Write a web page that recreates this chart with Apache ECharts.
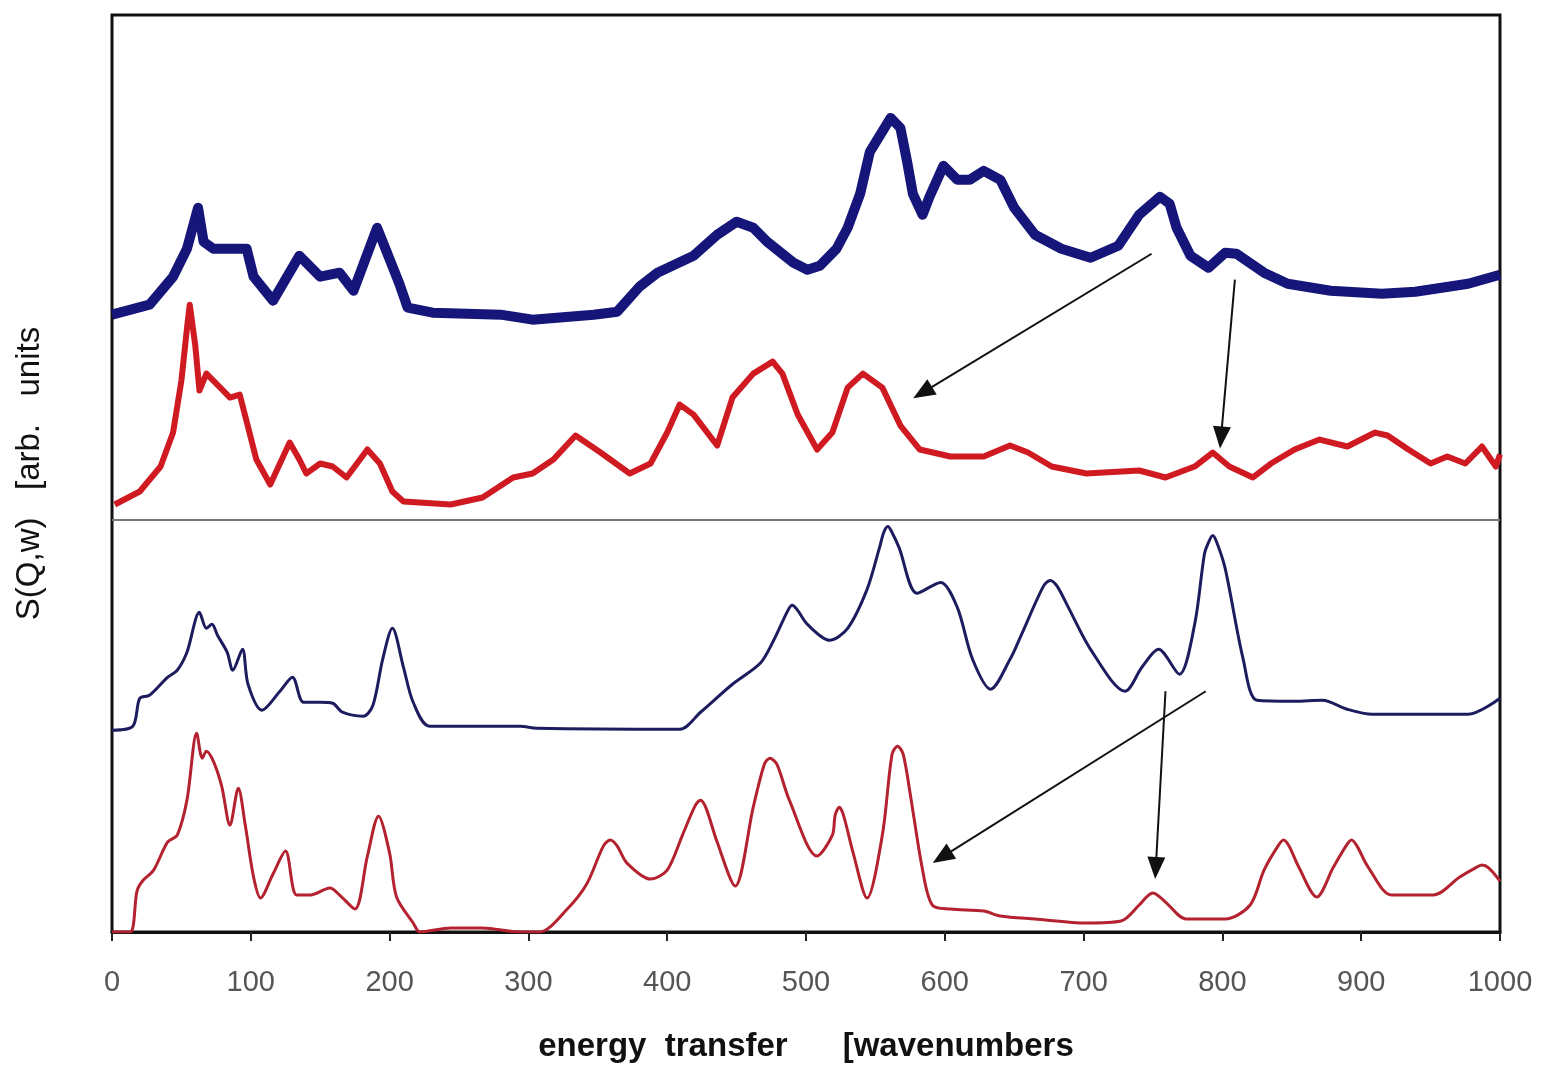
<!DOCTYPE html>
<html>
<head>
<meta charset="utf-8">
<script src="https://cdn.jsdelivr.net/npm/echarts@6/dist/echarts.min.js"></script>
<style>
html,body{margin:0;padding:0;background:#fff;}
#chart{width:1541px;height:1068px;}
</style>
</head>
<body>
<div id="chart"></div>
<script>
// x ticks (wavenumbers)
const xTicks = [0,100,200,300,400,500,600,700,800,900,1000];

// Experimental (top panel), offset curves, arbitrary units
const expBlue = [[0,618],[27,628],[44,656],[54,684],[62,725],[66,691],[73,684],[97,684],[102,656],[116,632],[135,677],[150,656],[164,660],[174,642],[191,705],[207,649],[213,625],[231,620],[280,618],[303,613],[347,618],[364,621],[380,646],[393,660],[419,677],[436,698],[450,711],[462,705],[472,691],[491,670],[501,663],[510,667],[522,684],[530,705],[539,739],[546,781],[561,815],[568,805],[573,770],[577,739],[584,718],[589,736],[599,767],[609,753],[618,753],[628,762],[640,753],[650,725],[665,698],[684,684],[705,675],[725,687],[740,718],[755,736],[762,729],[767,705],[777,677],[790,665],[802,680],[810,679],[830,660],[847,649],[878,642],[915,639],[939,641],[977,649],[1000,658]];

const expRed = [[2,428],[20,441],[35,466],[44,500],[50,552],[54,604],[56,628],[60,587],[63,542],[68,559],[78,545],[85,535],[92,538],[97,511],[104,473],[114,448],[128,490],[135,473],[140,459],[150,469],[159,466],[169,455],[184,483],[193,469],[202,441],[210,431],[244,428],[267,435],[289,455],[303,459],[318,473],[334,497],[352,480],[373,459],[388,469],[400,500],[409,528],[419,518],[436,487],[447,535],[462,559],[476,571],[483,559],[494,518],[508,483],[519,500],[530,545],[541,559],[555,545],[568,507],[582,483],[604,476],[628,476],[647,487],[660,480],[677,466],[702,459],[740,462],[759,455],[780,466],[793,480],[805,466],[822,455],[835,469],[852,483],[870,493],[890,486],[910,500],[919,497],[934,483],[950,469],[962,476],[975,469],[987,486],[997,466],[1000,478]];

// Calculated (bottom panel)
const calcBlue = [[0,202],[15,206],[20,234],[27,237],[40,255],[47,262],[54,280],[63,320],[68,304],[72,308],[76,297],[83,280],[87,262],[94,283],[98,248],[108,222],[121,241],[130,255],[138,230],[150,230],[159,229],[166,220],[181,216],[188,227],[195,273],[202,304],[210,265],[217,230],[229,206],[294,206],[306,204],[409,203],[424,220],[447,248],[467,269],[476,290],[487,322],[490,327],[494,322],[501,308],[517,292],[530,304],[544,343],[553,385],[556,400],[559,406],[562,400],[567,385],[580,339],[597,350],[609,325],[620,273],[633,243],[647,273],[655,297],[671,346],[676,352],[681,346],[689,325],[705,283],[730,241],[742,265],[754,283],[769,258],[780,308],[787,378],[790,390],[793,397],[796,390],[802,364],[815,273],[825,232],[852,231],[872,232],[890,223],[908,218],[977,218],[1000,234]];

const calcRed = [[0,0],[13,0],[18,41],[22,51],[30,62],[40,90],[47,97],[54,132],[61,199],[65,174],[68,181],[73,171],[79,146],[85,107],[91,144],[96,107],[102,55],[107,34],[116,58],[125,81],[133,37],[143,37],[157,44],[164,37],[175,23],[184,76],[192,116],[200,79],[205,35],[217,9],[222,0],[244,4],[267,4],[294,0],[308,0],[328,23],[342,48],[354,86],[359,92],[364,86],[371,69],[388,53],[400,62],[411,97],[420,126],[424,132],[428,124],[436,90],[449,46],[462,125],[470,168],[474,174],[479,168],[488,132],[508,76],[519,97],[521,117],[524,125],[527,117],[534,79],[544,34],[555,97],[562,178],[566,186],[570,178],[575,139],[584,62],[591,27],[604,23],[628,21],[640,16],[665,13],[702,9],[727,11],[740,27],[746,36],[750,39],[754,36],[759,30],[774,13],[802,13],[820,27],[830,62],[840,86],[844,92],[848,86],[855,65],[868,35],[880,65],[889,86],[893,92],[897,86],[905,65],[922,37],[952,37],[971,55],[982,64],[987,67],[992,64],[1000,51]];

// Panel divider level and annotation arrows ([from],[to]) in data units
const dividerLevel = 413;
const arrowsTop = [[[749,679],[584,540]],[[809,653],[799,495]]];
const arrowsBottom = [[[788,241],[598,75]],[[759,241],[752,64]]];

const chart = echarts.init(document.getElementById('chart'));
const arrowData = arr => arr.map(a => [{coord:a[0]},{coord:a[1]}]);

chart.setOption({
  animation:false,
  backgroundColor:'#fff',
  grid:{left:112,right:41,top:15,bottom:135,show:true,borderColor:'#111',borderWidth:3,backgroundColor:'transparent'},
  xAxis:{
    type:'value',min:xTicks[0],max:xTicks[xTicks.length-1],interval:100,
    axisLine:{show:true,lineStyle:{color:'#111',width:3}},
    axisTick:{show:true,inside:false,length:9,lineStyle:{color:'#222',width:2}},
    axisLabel:{color:'#555',fontSize:29,fontFamily:'Liberation Sans, Arial, sans-serif',margin:36,formatter:v=>String(v)},
    splitLine:{show:false},
    name:'energy  transfer      [wavenumbers',
    nameLocation:'middle',nameGap:98,
    nameTextStyle:{color:'#111',fontSize:33,fontWeight:'bold',fontFamily:'Liberation Sans, Arial, sans-serif'}
  },
  yAxis:{
    type:'value',min:0,max:918,
    axisLine:{show:false},axisTick:{show:false},axisLabel:{show:false},splitLine:{show:false},
    name:'S(Q,w)   [arb.   units',
    nameLocation:'middle',nameGap:66,
    nameTextStyle:{color:'#111',fontSize:33,fontFamily:'Liberation Sans, Arial, sans-serif'}
  },
  series:[
    {type:'line',name:'exp blue',data:expBlue,showSymbol:false,lineStyle:{color:'#15157a',width:10,join:'round'},
     markLine:{silent:true,symbol:['none','none'],label:{show:false},lineStyle:{color:'#777',width:2,type:'solid'},
       data:[{yAxis:dividerLevel}]}},
    {type:'line',name:'exp red',data:expRed,showSymbol:false,lineStyle:{color:'#d01a22',width:6,join:'round'},
     markLine:{silent:true,symbol:['none','triangle'],symbolSize:[18,22],label:{show:false},
       lineStyle:{color:'#111',width:2,type:'solid'},itemStyle:{color:'#111'},data:arrowData(arrowsTop)}},
    {type:'line',name:'calc blue',data:calcBlue,showSymbol:false,smooth:0.3,lineStyle:{color:'#1c1c5e',width:3}},
    {type:'line',name:'calc red',data:calcRed,showSymbol:false,smooth:0.3,lineStyle:{color:'#b3222e',width:3},
     markLine:{silent:true,symbol:['none','triangle'],symbolSize:[18,22],label:{show:false},
       lineStyle:{color:'#111',width:2,type:'solid'},itemStyle:{color:'#111'},data:arrowData(arrowsBottom)}}
  ]
});
</script>
</body>
</html>
